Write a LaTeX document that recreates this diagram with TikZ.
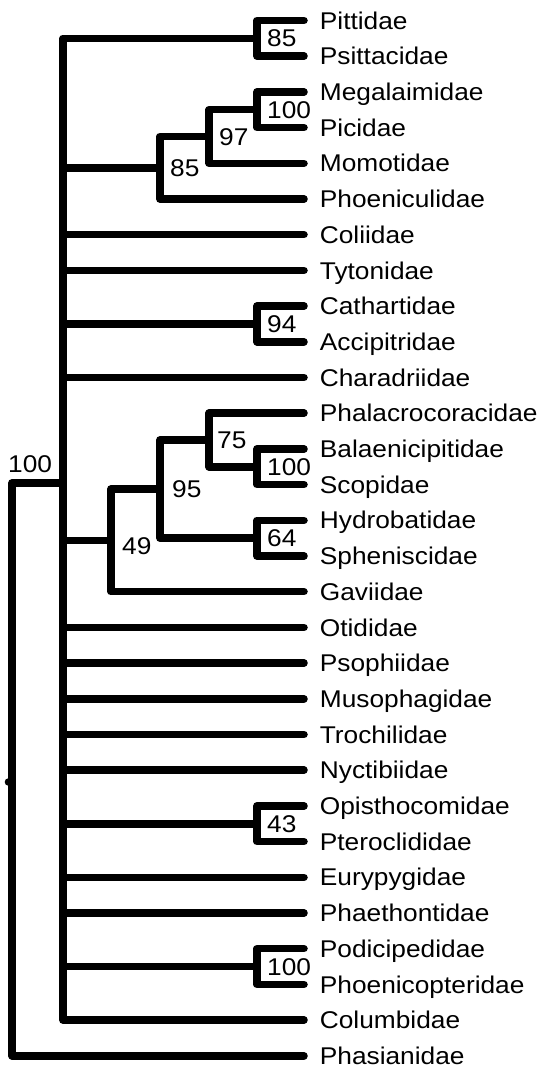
\documentclass[tikz,border=0pt]{standalone}
\usepackage{fontspec}
\setmainfont[FakeStretch=1.086]{Liberation Sans}
\usetikzlibrary{positioning}
\tikzset{
  branch/.style={line width=7.5pt, line cap=round, line join=round, color=black},
  taxon/.style={anchor=west, inner sep=0pt, text height=17.3pt, text depth=0pt,
    font=\fontsize{24.2}{29}\selectfont},
  boot/.style={anchor=west, inner sep=0pt, text height=17.3pt, text depth=0pt,
    font=\fontsize{24.2}{29}\selectfont}
}

\begin{document}
\begin{tikzpicture}[x=1pt, y=-1pt]
  \useasboundingbox (0,0) rectangle (543,1067);
  % Leaf tips
  \coordinate (pitt) at (304,20.5);
  \coordinate (psit) at (304,56.2);
  \coordinate (mega) at (304,91.9);
  \coordinate (pici) at (304,127.6);
  \coordinate (momo) at (304,163.3);
  \coordinate (phoe) at (304,199.0);
  \coordinate (coli) at (304,234.7);
  \coordinate (tyto) at (304,270.4);
  \coordinate (cath) at (304,306.1);
  \coordinate (acci) at (304,341.8);
  \coordinate (char) at (304,377.5);
  \coordinate (phal) at (304,413.2);
  \coordinate (bala) at (304,448.9);
  \coordinate (scop) at (304,484.6);
  \coordinate (hydr) at (304,520.3);
  \coordinate (sphe) at (304,556.0);
  \coordinate (gavi) at (304,591.7);
  \coordinate (otid) at (304,627.4);
  \coordinate (psop) at (304,663.1);
  \coordinate (muso) at (304,698.8);
  \coordinate (troc) at (304,734.5);
  \coordinate (nyct) at (304,770.2);
  \coordinate (opis) at (304,805.9);
  \coordinate (pter) at (304,841.6);
  \coordinate (eury) at (304,877.3);
  \coordinate (phae) at (304,913.0);
  \coordinate (podi) at (304,948.7);
  \coordinate (phoc) at (304,984.4);
  \coordinate (colu) at (304,1020.1);
  \coordinate (phas) at (304,1055.8);

  % Internal nodes
  \coordinate (root) at (12,769.4);
  \coordinate (neo) at (63,483);
  \coordinate (cPitt) at (257,38.35);
  \coordinate (cPici) at (257,109.75);
  \coordinate (cMomo) at (209,136.55);
  \coordinate (cCora) at (160,167.8);
  \coordinate (cCath) at (257,323.95);
  \coordinate (cScop) at (257,466.75);
  \coordinate (cPhal) at (209,439.98);
  \coordinate (cHydr) at (257,538.15);
  \coordinate (cPele) at (160,489.06);
  \coordinate (cWater) at (111,540.4);
  \coordinate (cOpis) at (257,823.75);
  \coordinate (cPodi) at (257,966.55);
  \coordinate (rootdot) at (8.5,782);

  % Branches
  \draw[branch] (root) |- (neo);
  \draw[branch] (root) |- (phas);
  \fill (rootdot) circle (3.8pt);

  \draw[branch] (neo) |- (cPitt);
  \draw[branch] (neo) |- (cCora);
  \draw[branch] (neo) |- (coli);
  \draw[branch] (neo) |- (tyto);
  \draw[branch] (neo) |- (cCath);
  \draw[branch] (neo) |- (char);
  \draw[branch] (neo) |- (cWater);
  \draw[branch] (neo) |- (otid);
  \draw[branch] (neo) |- (psop);
  \draw[branch] (neo) |- (muso);
  \draw[branch] (neo) |- (troc);
  \draw[branch] (neo) |- (nyct);
  \draw[branch] (neo) |- (cOpis);
  \draw[branch] (neo) |- (eury);
  \draw[branch] (neo) |- (phae);
  \draw[branch] (neo) |- (cPodi);
  \draw[branch] (neo) |- (colu);

  \draw[branch] (cPitt) |- (pitt);
  \draw[branch] (cPitt) |- (psit);
  \draw[branch] (cCora) |- (cMomo);
  \draw[branch] (cCora) |- (phoe);
  \draw[branch] (cMomo) |- (cPici);
  \draw[branch] (cMomo) |- (momo);
  \draw[branch] (cPici) |- (mega);
  \draw[branch] (cPici) |- (pici);
  \draw[branch] (cCath) |- (cath);
  \draw[branch] (cCath) |- (acci);
  \draw[branch] (cWater) |- (cPele);
  \draw[branch] (cWater) |- (gavi);
  \draw[branch] (cPele) |- (cPhal);
  \draw[branch] (cPele) |- (cHydr);
  \draw[branch] (cPhal) |- (phal);
  \draw[branch] (cPhal) |- (cScop);
  \draw[branch] (cScop) |- (bala);
  \draw[branch] (cScop) |- (scop);
  \draw[branch] (cHydr) |- (hydr);
  \draw[branch] (cHydr) |- (sphe);
  \draw[branch] (cOpis) |- (opis);
  \draw[branch] (cOpis) |- (pter);
  \draw[branch] (cPodi) |- (podi);
  \draw[branch] (cPodi) |- (phoc);

  % Taxon names
  \node[taxon, right=15.7pt of pitt] (pitt-l) {Pittidae};
  \node[taxon, right=15.7pt of psit] (psit-l) {Psittacidae};
  \node[taxon, right=15.7pt of mega] (mega-l) {Megalaimidae};
  \node[taxon, right=15.7pt of pici] (pici-l) {Picidae};
  \node[taxon, right=15.7pt of momo] (momo-l) {Momotidae};
  \node[taxon, right=15.7pt of phoe] (phoe-l) {Phoeniculidae};
  \node[taxon, right=15.7pt of coli] (coli-l) {Coliidae};
  \node[taxon, right=15.7pt of tyto] (tyto-l) {Tytonidae};
  \node[taxon, right=15.7pt of cath] (cath-l) {Cathartidae};
  \node[taxon, right=15.7pt of acci] (acci-l) {Accipitridae};
  \node[taxon, right=15.7pt of char] (char-l) {Charadriidae};
  \node[taxon, right=15.7pt of phal] (phal-l) {Phalacrocoracidae};
  \node[taxon, right=15.7pt of bala] (bala-l) {Balaenicipitidae};
  \node[taxon, right=15.7pt of scop] (scop-l) {Scopidae};
  \node[taxon, right=15.7pt of hydr] (hydr-l) {Hydrobatidae};
  \node[taxon, right=15.7pt of sphe] (sphe-l) {Spheniscidae};
  \node[taxon, right=15.7pt of gavi] (gavi-l) {Gaviidae};
  \node[taxon, right=15.7pt of otid] (otid-l) {Otididae};
  \node[taxon, right=15.7pt of psop] (psop-l) {Psophiidae};
  \node[taxon, right=15.7pt of muso] (muso-l) {Musophagidae};
  \node[taxon, right=15.7pt of troc] (troc-l) {Trochilidae};
  \node[taxon, right=15.7pt of nyct] (nyct-l) {Nyctibiidae};
  \node[taxon, right=15.7pt of opis] (opis-l) {Opisthocomidae};
  \node[taxon, right=15.7pt of pter] (pter-l) {Pteroclididae};
  \node[taxon, right=15.7pt of eury] (eury-l) {Eurypygidae};
  \node[taxon, right=15.7pt of phae] (phae-l) {Phaethontidae};
  \node[taxon, right=15.7pt of podi] (podi-l) {Podicipedidae};
  \node[taxon, right=15.7pt of phoc] (phoc-l) {Phoenicopteridae};
  \node[taxon, right=15.7pt of colu] (colu-l) {Columbidae};
  \node[taxon, right=15.7pt of phas] (phas-l) {Phasianidae};

  % Support values
  \node[boot, anchor=base west] (root-l) at (8,472) {100};
  \node[boot, right=10pt of cPitt] (cPitt-l) {85};
  \node[boot, right=10pt of cPici] (cPici-l) {100};
  \node[boot, right=10pt of cMomo] (cMomo-l) {97};
  \node[boot, right=10pt of cCora] (cCora-l) {85};
  \node[boot, right=10pt of cCath] (cCath-l) {94};
  \node[boot, right=8pt of cPhal] (cPhal-l) {75};
  \node[boot, right=10pt of cScop] (cScop-l) {100};
  \node[boot, right=12pt of cPele] (cPele-l) {95};
  \node[boot, right=10pt of cHydr] (cHydr-l) {64};
  \node[boot, right=11pt of cWater, yshift=-5pt] (cWater-l) {49};
  \node[boot, right=10pt of cOpis] (cOpis-l) {43};
  \node[boot, right=10pt of cPodi] (cPodi-l) {100};
\end{tikzpicture}
\end{document}
